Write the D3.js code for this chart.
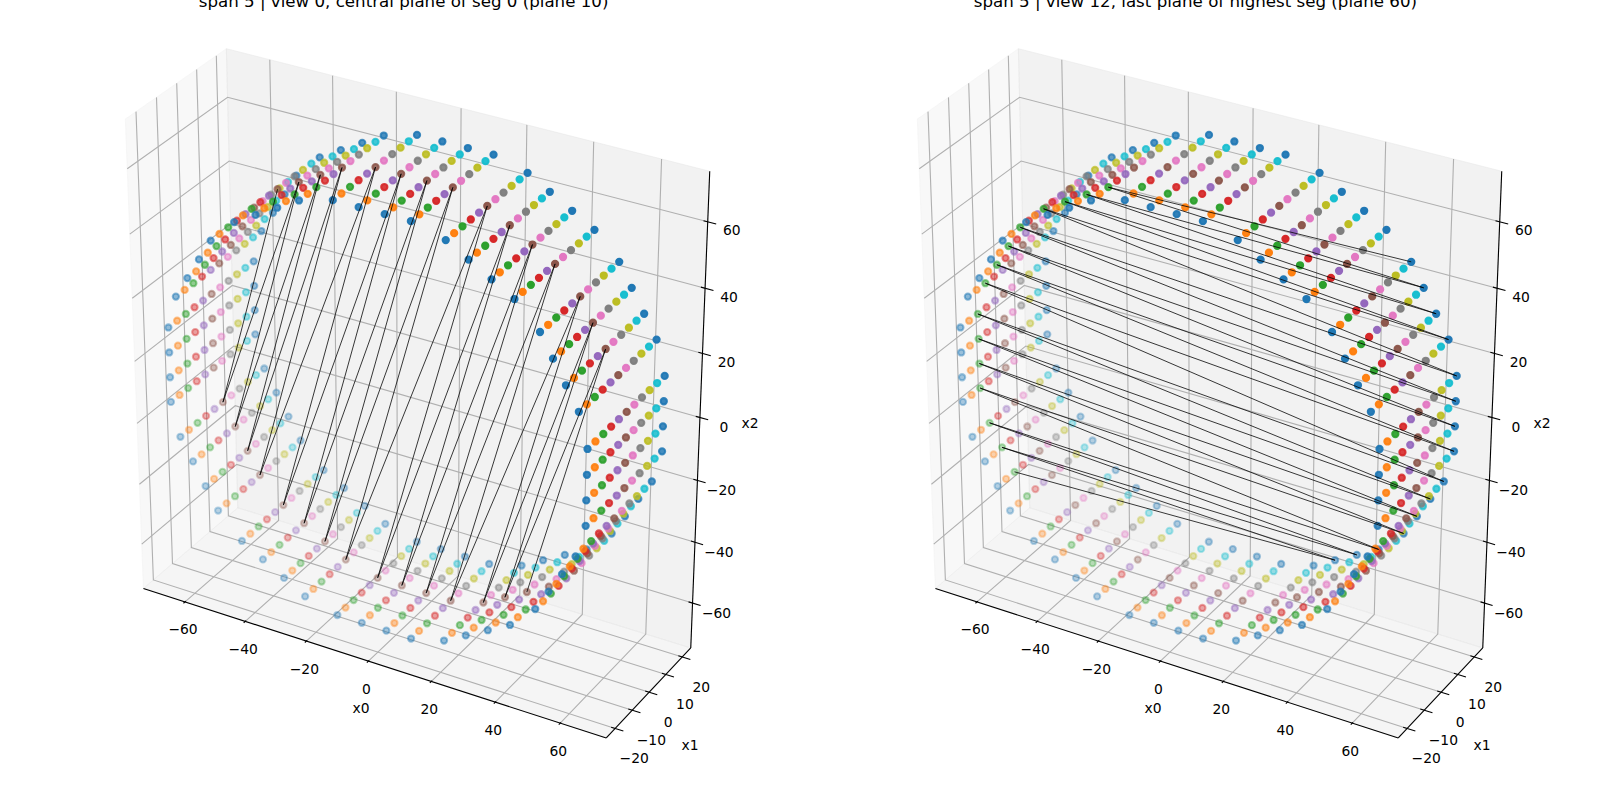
<!DOCTYPE html>
<html>
<head>
<meta charset="utf-8">
<script src="https://cdn.jsdelivr.net/npm/d3@7/dist/d3.min.js"></script>
<style>
  html, body { margin: 0; padding: 0; background: #fff; }
  svg { display: block; }
  text { font-family: "DejaVu Sans", sans-serif; fill: #000; }
</style>
</head>
<body>
<svg id="fig" width="1600" height="800"></svg>
<script>
// Wire positions around the twelve-sided ring, one entry per row.
const rowX0 = [
  64.62, 64.62, 64.62, 64.62, 61.85, 57.93, 54.01, 50.09, 42.49, 35.71, 28.91, 22.13,
  11.76, 3.92, -3.92, -11.76, -22.13, -28.91, -35.71, -42.49, -50.09, -54.01, -57.93, -61.85,
  -64.62, -64.62, -64.62, -64.62, -61.85, -57.93, -54.01, -50.09, -42.49, -35.71, -28.91, -22.13,
  -11.76, -3.92, 3.92, 11.76, 22.13, 28.91, 35.71, 42.49, 50.09, 54.01, 57.93, 61.85
];
const rowX2 = [
  -11.89, -3.96, 3.96, 11.89, 22.38, 29.24, 36.11, 42.97, 50.65, 54.62, 58.58, 62.54,
  65.35, 65.35, 65.35, 65.35, 62.54, 58.58, 54.62, 50.65, 42.97, 36.11, 29.24, 22.38,
  11.89, 3.96, -3.96, -11.89, -22.38, -29.24, -36.11, -42.97, -50.65, -54.62, -58.58, -62.54,
  -65.35, -65.35, -65.35, -65.35, -62.54, -58.58, -54.62, -50.65, -42.97, -36.11, -29.24, -22.38
];
// Depth of each plane along x1.
const planeX1 = [-22, -17.6, -13.2, -8.8, -4.4, 0, 4.4, 8.8, 13.2, 17.6, 22];
const planeColors = ["#1f77b4", "#ff7f0e", "#2ca02c", "#d62728", "#9467bd", "#8c564b",
                     "#e377c2", "#7f7f7f", "#bcbd22", "#17becf", "#1f77b4"];

// Wire paths as row numbers; planes give the x1 plane used at odd and even steps.
const centralChain = [42, 5, 41, 6, 40, 7, 39, 8, 38, 9, 37, 10, 36, 11, 35, 12, 34, 13, 33, 14, 32, 15, 31, 16, 30, 17, 29, 18, 28, 19];
const centralPlanes = [5, 5];
const lastChain = [7, 16, 6, 17, 5, 18, 4, 19, 3, 20, 2, 21, 1, 22, 0, 23, 47, 24, 46, 25, 45, 26, 44, 27, 43, 28, 42, 29, 41, 30];
const lastPlanes = [10, 2];

const ticksX0 = [-60, -40, -20, 0, 20, 40, 60];
const ticksX1 = [-20, -10, 0, 10, 20];
const ticksX2 = [-60, -40, -20, 0, 20, 40, 60];
const limX0 = [-74, 74];
const limX1 = [-25.16, 25.16];
const limX2 = [-75, 75];

const panels = [
  { title: "span 5 | view 0, central plane of seg 0 (plane 10)", chain: centralChain, planes: centralPlanes, originX: 414, titleX: 403.6 },
  { title: "span 5 | view 12, last plane of highest seg (plane 60)", chain: lastChain, planes: lastPlanes, originX: 1206, titleX: 1195.4 }
];

const svg = d3.select("#fig");
const ORIGIN_Y = 389.1, VIEW_SCALE = 4165, CAMERA = 10;

// Normalised box coordinates for the three data axes.
const boxX0 = d3.scaleLinear().domain(limX0).range([-0.655, 0.655]);
const boxX1 = d3.scaleLinear().domain(limX1).range([-0.2225, 0.2225]);
const boxX2 = d3.scaleLinear().domain(limX2).range([-0.655, 0.655]);

// Camera at elevation 30, azimuth -60, with perspective.
const elev = 30 * Math.PI / 180, azim = -60 * Math.PI / 180;
const w = [Math.cos(elev) * Math.cos(azim), Math.cos(elev) * Math.sin(azim), Math.sin(elev)];
const uLen = Math.hypot(w[0], w[1]);
const u = [-w[1] / uLen, w[0] / uLen, 0];
const v = [w[1] * u[2] - w[2] * u[1], w[2] * u[0] - w[0] * u[2], w[0] * u[1] - w[1] * u[0]];

function project(x0, x1, x2, originX) {
  const p = [boxX0(x0), boxX1(x1), boxX2(x2)];
  const dot = (a, b) => a[0] * b[0] + a[1] * b[1] + a[2] * b[2];
  const depth = CAMERA - dot(p, w);
  return {
    x: originX + VIEW_SCALE * dot(p, u) / depth,
    y: ORIGIN_Y - VIEW_SCALE * dot(p, v) / depth,
    z: -1 / depth
  };
}

const line3d = d3.line().x(d => d.x).y(d => d.y);

function drawPanel(panel) {
  const g = svg.append("g");
  const P = (a, b, c) => project(a, b, c, panel.originX);
  const [x0a, x0b] = limX0, [x1a, x1b] = limX1, [x2a, x2b] = limX2;

  // Panes: left wall, back wall, floor.
  const panes = [
    { pts: [P(x0a, x1a, x2a), P(x0a, x1b, x2a), P(x0a, x1b, x2b), P(x0a, x1a, x2b)], fill: "rgb(242,242,242)" },
    { pts: [P(x0a, x1b, x2a), P(x0b, x1b, x2a), P(x0b, x1b, x2b), P(x0a, x1b, x2b)], fill: "rgb(230,230,230)" },
    { pts: [P(x0a, x1a, x2a), P(x0b, x1a, x2a), P(x0b, x1b, x2a), P(x0a, x1b, x2a)], fill: "rgb(236,236,236)" }
  ];
  g.selectAll("path.pane").data(panes).join("path")
    .attr("class", "pane")
    .attr("d", d => line3d(d.pts) + "Z")
    .attr("fill", d => d.fill)
    .attr("fill-opacity", 0.5)
    .attr("stroke", d => d.fill)
    .attr("stroke-opacity", 0.5)
    .attr("stroke-width", 1);

  // Grid lines run over two panes for every tick.
  const grid = [];
  ticksX0.forEach(t => grid.push([P(t, x1a, x2a), P(t, x1b, x2a), P(t, x1b, x2b)]));
  ticksX1.forEach(t => grid.push([P(x0b, t, x2a), P(x0a, t, x2a), P(x0a, t, x2b)]));
  ticksX2.forEach(t => grid.push([P(x0a, x1a, t), P(x0a, x1b, t), P(x0b, x1b, t)]));
  g.selectAll("path.grid").data(grid).join("path")
    .attr("class", "grid")
    .attr("d", line3d)
    .attr("fill", "none")
    .attr("stroke", "rgb(176,176,176)")
    .attr("stroke-width", 1.11);

  // Axis spines along the three outer edges.
  const spines = [
    [P(x0a, x1a, x2a), P(x0b, x1a, x2a)],
    [P(x0b, x1a, x2a), P(x0b, x1b, x2a)],
    [P(x0b, x1b, x2a), P(x0b, x1b, x2b)]
  ];
  g.selectAll("path.spine").data(spines).join("path")
    .attr("class", "spine")
    .attr("d", line3d)
    .attr("fill", "none")
    .attr("stroke", "#000")
    .attr("stroke-width", 1.11);

  // Tick marks extend a little into the box and further out of it.
  const dx1 = (x1b - x1a) / 12, dx0 = (x0b - x0a) / 12;
  const tickMarks = [];
  ticksX0.forEach(t => tickMarks.push([P(t, x1a + 0.1 * dx1, x2a), P(t, x1a - 0.2 * dx1, x2a)]));
  ticksX1.forEach(t => tickMarks.push([P(x0b - 0.1 * dx0, t, x2a), P(x0b + 0.2 * dx0, t, x2a)]));
  ticksX2.forEach(t => tickMarks.push([P(x0b - 0.1 * dx0, x1b, t), P(x0b + 0.2 * dx0, x1b, t)]));
  g.selectAll("path.tick").data(tickMarks).join("path")
    .attr("class", "tick")
    .attr("d", line3d)
    .attr("fill", "none")
    .attr("stroke", "#000")
    .attr("stroke-width", 1.11);

  // Tick labels sit at a fixed offset from the spine; x2 labels tighten toward the top.
  const fmt = t => String(t).replace("-", "\u2212");
  const labels = [];
  ticksX0.forEach(t => { const p = P(t, x1a, x2a); labels.push({ t, x: p.x - 2, y: p.y + 27.6 }); });
  ticksX1.forEach(t => { const p = P(x0b, t, x2a); labels.push({ t, x: p.x + 19, y: p.y + 30 }); });
  ticksX2.forEach(t => { const p = P(x0b, x1b, t); labels.push({ t, x: p.x + 24, y: p.y + 9.5 - 0.027 * Math.max(t, 0) }); });
  g.selectAll("text.ticklabel").data(labels).join("text")
    .attr("class", "ticklabel")
    .attr("x", d => d.x)
    .attr("y", d => d.y)
    .attr("dy", "0.36em")
    .attr("text-anchor", "middle")
    .attr("font-size", 13.89)
    .text(d => fmt(d.t));

  // Axis titles.
  const dx = panel.originX - 414;
  const axisTitles = [
    { s: "x0", x: 361 + dx, y: 708 },
    { s: "x1", x: 690 + dx, y: 745 },
    { s: "x2", x: 750 + dx, y: 423 }
  ];
  g.selectAll("text.axistitle").data(axisTitles).join("text")
    .attr("class", "axistitle")
    .attr("x", d => d.x)
    .attr("y", d => d.y)
    .attr("dy", "0.36em")
    .attr("text-anchor", "middle")
    .attr("font-size", 13.89)
    .text(d => d.s);

  // One collection per plane: each fades with depth and is painted back to front.
  const collections = planeX1.map((x1, j) => {
    const pts = rowX0.map((x0, i) => P(x0, x1, rowX2[i]));
    const [zMin, zMax] = d3.extent(pts, d => d.z);
    const fade = d3.scaleLinear().domain([zMin, zMax]).range([1, 0.3]);
    pts.forEach(d => { d.alpha = fade(d.z); });
    pts.sort((a, b) => d3.descending(a.z, b.z));
    return { pts, zMin, color: planeColors[j] };
  }).sort((a, b) => d3.descending(a.zMin, b.zMin));

  const groups = g.selectAll("g.plane").data(collections).join("g").attr("class", "plane");
  groups.selectAll("circle").data(d => d.pts.map(p => ({ ...p, color: d.color }))).join("circle")
    .attr("cx", d => d.x)
    .attr("cy", d => d.y)
    .attr("r", 3.1)
    .attr("fill", d => d.color)
    .attr("fill-opacity", d => d.alpha)
    .attr("stroke", d => d.color)
    .attr("stroke-opacity", d => d.alpha)
    .attr("stroke-width", 2.08);

  // The wire itself, zigzagging between the two arcs.
  const wire = panel.chain.map((row, k) => P(rowX0[row], planeX1[panel.planes[k % 2]], rowX2[row]));
  g.append("path")
    .attr("d", line3d(wire))
    .attr("fill", "none")
    .attr("stroke", "#000")
    .attr("stroke-width", 0.78)
    .attr("stroke-linejoin", "miter");

  g.append("text")
    .attr("x", panel.titleX)
    .attr("y", 6.6)
    .attr("text-anchor", "middle")
    .attr("font-size", 16.67)
    .text(panel.title);
}

panels.forEach(drawPanel);
</script>
</body>
</html>
